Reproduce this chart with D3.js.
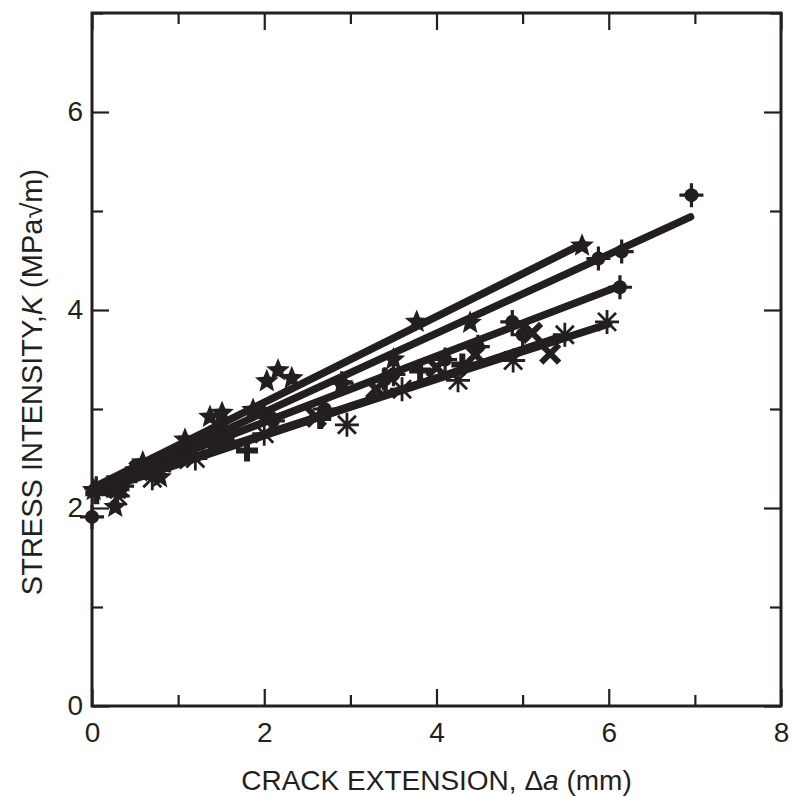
<!DOCTYPE html>
<html>
<head>
<meta charset="utf-8">
<script src="https://cdn.jsdelivr.net/npm/d3@7"></script>
<style>
  body { margin: 0; background: #fff; }
  svg { display: block; font-family: "Liberation Sans", Arial, sans-serif; }
</style>
</head>
<body>
<script>
// DATA
var xTicks = [0, 2, 4, 6, 8];
var xMinor = [1, 3, 5, 7];
var yTicks = [0, 2, 4, 6];
var yMinor = [1, 3, 5, 7];

// star specimens
var starX = [0.02, 0.27, 0.59, 0.79, 1.08, 1.37, 1.51, 1.87, 2.03, 2.16, 2.32, 2.9, 3.5, 3.77, 4.39, 5.69];
var starY = [2.18, 2.01, 2.46, 2.31, 2.69, 2.92, 2.96, 2.99, 3.28, 3.39, 3.31, 3.25, 3.5, 3.88, 3.87, 4.65];
var starFit = [[0, 2.2], [5.7, 4.67]];

// circle specimens (long line)
var circAX = [0, 0.35, 0.7, 1.1, 1.5, 2.0, 2.9, 3.5, 4.48, 4.88, 5.88, 6.15, 6.96];
var circAY = [1.91, 2.22, 2.42, 2.62, 2.82, 2.95, 3.26, 3.35, 3.63, 3.88, 4.52, 4.59, 5.16];
var circAFit = [[0, 2.17], [6.95, 4.94]];

// circle specimens (second line)
var circBX = [0.05, 0.4, 0.9, 1.4, 2.1, 2.7, 3.4, 4.1, 5.0, 6.13];
var circBY = [2.2, 2.3, 2.48, 2.65, 2.88, 3.0, 3.3, 3.5, 3.75, 4.23];
var circBFit = [[0, 2.2], [6.15, 4.25]];

// plus specimens
var plusX = [0.05, 0.2, 0.4, 0.75, 1.1, 1.8, 2.65, 3.4, 3.81, 4.3];
var plusY = [2.15, 2.22, 2.28, 2.42, 2.55, 2.58, 2.91, 3.3, 3.39, 3.45];
var plusFit = [[0, 2.18], [5.3, 3.68]];

// x specimens
var crossX = [0.3, 0.55, 0.95, 1.6, 2.6, 3.3, 4.0, 4.45, 5.11, 5.32];
var crossY = [2.2, 2.38, 2.5, 2.7, 2.92, 3.2, 3.42, 3.55, 3.77, 3.56];
var crossFit = [[0, 2.15], [5.4, 3.72]];

// asterisk specimens
var astX = [0.3, 0.7, 1.2, 2.0, 2.96, 3.6, 4.25, 4.89, 5.49, 5.98];
var astY = [2.12, 2.3, 2.5, 2.75, 2.84, 3.2, 3.29, 3.49, 3.75, 3.88];
var astFit = [[0, 2.18], [6.0, 3.86]];

var series = [
    {sym: "star",     xs: starX,  ys: starY,  fit: starFit},
    {sym: "circle",   xs: circAX, ys: circAY, fit: circAFit},
    {sym: "circle",   xs: circBX, ys: circBY, fit: circBFit},
    {sym: "plus",     xs: plusX,  ys: plusY,  fit: plusFit},
    {sym: "x",        xs: crossX, ys: crossY, fit: crossFit},
    {sym: "asterisk", xs: astX,   ys: astY,   fit: astFit}
];

var ink = "#231f20";
var w = 792, h = 796;
var pLeft = 92, pRight = 781, pTop = 13, pBottom = 706;

var x = d3.scaleLinear().domain([0, 8]).range([pLeft, pRight]);
var y = d3.scaleLinear().domain([0, 7]).range([pBottom, pTop]);

var svg = d3.select("body")
    .append("svg")
    .attr("width", w)
    .attr("height", h);

// AXES
function styleAxis(g) {
    g.select(".domain").remove();
    g.selectAll(".tick line").attr("stroke", ink).attr("stroke-width", 2.2);
    g.selectAll(".tick text").attr("fill", ink).attr("font-size", "28px");
}

svg.append("g").attr("transform", "translate(0," + pBottom + ")")
   .call(d3.axisBottom(x).tickValues(xTicks).tickSize(-17).tickPadding(16).tickFormat(d3.format("d")))
   .call(styleAxis);
svg.append("g").attr("transform", "translate(0," + pBottom + ")")
   .call(d3.axisBottom(x).tickValues(xMinor).tickSize(-11).tickFormat(""))
   .call(styleAxis);
svg.append("g").attr("transform", "translate(0," + pTop + ")")
   .call(d3.axisTop(x).tickValues(xTicks).tickSize(-17).tickFormat(""))
   .call(styleAxis);
svg.append("g").attr("transform", "translate(0," + pTop + ")")
   .call(d3.axisTop(x).tickValues(xMinor).tickSize(-11).tickFormat(""))
   .call(styleAxis);

svg.append("g").attr("transform", "translate(" + pLeft + ",0)")
   .call(d3.axisLeft(y).tickValues(yTicks).tickSize(-17).tickPadding(9).tickFormat(d3.format("d")))
   .call(styleAxis);
svg.append("g").attr("transform", "translate(" + pLeft + ",0)")
   .call(d3.axisLeft(y).tickValues(yMinor).tickSize(-11).tickFormat(""))
   .call(styleAxis);
svg.append("g").attr("transform", "translate(" + pRight + ",0)")
   .call(d3.axisRight(y).tickValues(yTicks).tickSize(-17).tickFormat(""))
   .call(styleAxis);
svg.append("g").attr("transform", "translate(" + pRight + ",0)")
   .call(d3.axisRight(y).tickValues(yMinor).tickSize(-11).tickFormat(""))
   .call(styleAxis);

// frame
svg.append("rect")
   .attr("x", pLeft).attr("y", pTop)
   .attr("width", pRight - pLeft).attr("height", pBottom - pTop)
   .attr("fill", "none")
   .attr("stroke", ink)
   .attr("stroke-width", 3);

// TITLES
var xt = svg.append("text")
   .attr("x", (pLeft + pRight) / 2)
   .attr("y", 790)
   .attr("text-anchor", "middle")
   .attr("font-size", "28px")
   .attr("fill", ink);
xt.append("tspan").text("CRACK EXTENSION, ");
xt.append("tspan").text("Δ");
xt.append("tspan").attr("font-style", "italic").text("a");
xt.append("tspan").text(" (mm)");

var yt = svg.append("text")
   .attr("transform", "translate(42,382) rotate(-90)")
   .attr("text-anchor", "middle")
   .attr("font-size", "29px")
   .attr("fill", ink);
yt.append("tspan").text("STRESS INTENSITY,");
yt.append("tspan").attr("font-style", "italic").text("K");
yt.append("tspan").text(" (MPa√m)");

// MARKERS
function starPath(r) {
    var p = [];
    for (var i = 0; i < 10; i++) {
        var a = -Math.PI / 2 + i * Math.PI / 5;
        var rr = (i % 2 === 0) ? r : r * 0.44;
        p.push([rr * Math.cos(a), rr * Math.sin(a)]);
    }
    return "M" + p.map(function(d) { return d[0].toFixed(2) + "," + d[1].toFixed(2); }).join("L") + "Z";
}

function drawMarker(g, sym) {
    if (sym === "star") {
        g.append("path").attr("d", starPath(12.5)).attr("fill", ink);
    } else if (sym === "circle") {
        g.append("circle").attr("r", 7).attr("fill", ink);
        g.append("path").attr("d", "M-12,0H12M0,-12V12")
         .attr("stroke", ink).attr("stroke-width", 3.2);
    } else if (sym === "plus") {
        g.append("path").attr("d", "M-11,0H11M0,-11V11")
         .attr("stroke", ink).attr("stroke-width", 6);
    } else if (sym === "x") {
        g.append("path").attr("d", "M-9,-9L9,9M-9,9L9,-9")
         .attr("stroke", ink).attr("stroke-width", 6);
    } else if (sym === "asterisk") {
        g.append("path").attr("d", "M-12,0H12M0,-12V12M-9,-9L9,9M-9,9L9,-9")
         .attr("stroke", ink).attr("stroke-width", 2.8);
    }
}

var line = d3.line()
    .x(function(d) { return x(d[0]); })
    .y(function(d) { return y(d[1]); });

series.forEach(function(s) {
    var pts = s.xs.map(function(v, i) { return [v, s.ys[i]]; });

    svg.append("path")
       .datum(s.fit)
       .attr("d", line)
       .attr("fill", "none")
       .attr("stroke", ink)
       .attr("stroke-width", 7.5)
       .attr("stroke-linecap", "round");

    svg.append("g")
       .selectAll("g")
       .data(pts)
       .enter()
       .append("g")
       .attr("transform", function(d) {
           return "translate(" + x(d[0]) + "," + y(d[1]) + ")";
       })
       .each(function() { drawMarker(d3.select(this), s.sym); });
});
</script>
</body>
</html>
